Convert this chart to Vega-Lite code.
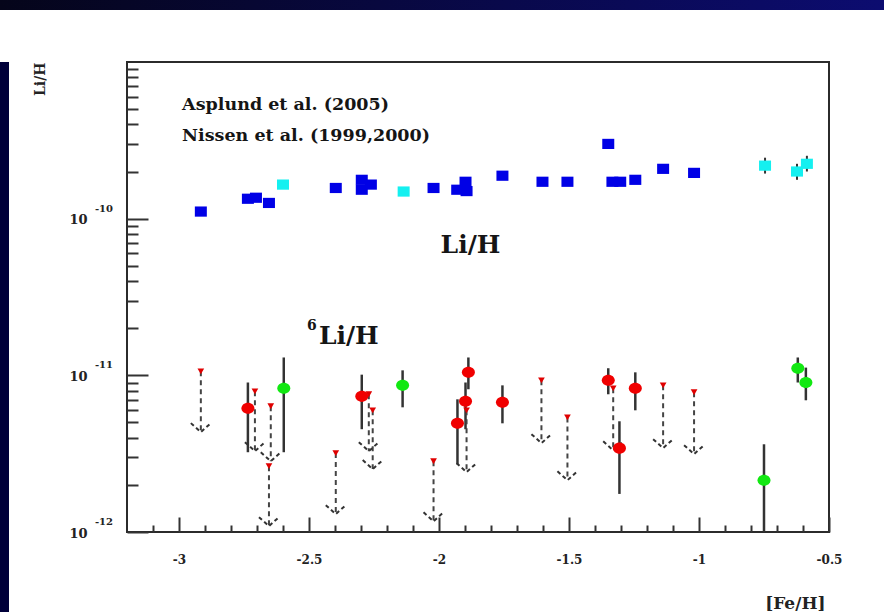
{
  "$schema": "https://vega.github.io/schema/vega-lite/v6.json",
  "padding": 0,
  "background": "white",
  "bounds": "flush",
  "spacing": 52,
  "config": {"view": {"stroke": null}, "font": "DejaVu Serif"},
  "datasets": {
    "li7": [
      {"feh": -2.916, "val": 1.11e-10, "src": "Asplund"},
      {"feh": -2.735, "val": 1.34e-10, "src": "Asplund"},
      {"feh": -2.704, "val": 1.36e-10, "src": "Asplund"},
      {"feh": -2.654, "val": 1.26e-10, "src": "Asplund"},
      {"feh": -2.397, "val": 1.57e-10, "src": "Asplund"},
      {"feh": -2.297, "val": 1.77e-10, "src": "Asplund"},
      {"feh": -2.262, "val": 1.65e-10, "src": "Asplund"},
      {"feh": -2.297, "val": 1.53e-10, "src": "Asplund"},
      {"feh": -2.021, "val": 1.57e-10, "src": "Asplund"},
      {"feh": -1.930, "val": 1.53e-10, "src": "Asplund"},
      {"feh": -1.898, "val": 1.72e-10, "src": "Asplund"},
      {"feh": -1.894, "val": 1.50e-10, "src": "Asplund"},
      {"feh": -1.756, "val": 1.88e-10, "src": "Asplund"},
      {"feh": -1.602, "val": 1.72e-10, "src": "Asplund"},
      {"feh": -1.506, "val": 1.72e-10, "src": "Asplund"},
      {"feh": -1.349, "val": 3.0e-10, "src": "Asplund"},
      {"feh": -1.333, "val": 1.72e-10, "src": "Asplund"},
      {"feh": -1.303, "val": 1.72e-10, "src": "Asplund"},
      {"feh": -1.245, "val": 1.77e-10, "src": "Asplund"},
      {"feh": -1.138, "val": 2.08e-10, "src": "Asplund"},
      {"feh": -1.019, "val": 1.96e-10, "src": "Asplund"},
      {"feh": -2.600, "val": 1.65e-10, "src": "Nissen"},
      {"feh": -2.136, "val": 1.49e-10, "src": "Nissen"},
      {"feh": -0.746, "val": 2.18e-10, "src": "Nissen", "lo": 1.94e-10, "hi": 2.45e-10},
      {"feh": -0.623, "val": 2.0e-10, "src": "Nissen", "lo": 1.77e-10, "hi": 2.24e-10},
      {"feh": -0.585, "val": 2.24e-10, "src": "Nissen", "lo": 2.0e-10, "hi": 2.52e-10}
    ],
    "li6": [
      {"feh": -2.735, "val": 6.17e-12, "lo": 3.23e-12, "hi": 9.0e-12, "src": "Asplund"},
      {"feh": -2.297, "val": 7.34e-12, "lo": 4.53e-12, "hi": 1.01e-11, "src": "Asplund"},
      {"feh": -1.929, "val": 4.94e-12, "lo": 2.71e-12, "hi": 7.03e-12, "src": "Asplund"},
      {"feh": -1.887, "val": 1.045e-11, "lo": 8.15e-12, "hi": 1.30e-11, "src": "Asplund"},
      {"feh": -1.898, "val": 6.82e-12, "lo": 4.53e-12, "hi": 9.0e-12, "src": "Asplund"},
      {"feh": -1.756, "val": 6.73e-12, "lo": 4.94e-12, "hi": 8.63e-12, "src": "Asplund"},
      {"feh": -1.349, "val": 9.29e-12, "lo": 7.57e-12, "hi": 1.11e-11, "src": "Asplund"},
      {"feh": -1.306, "val": 3.43e-12, "lo": 1.75e-12, "hi": 5.09e-12, "src": "Asplund"},
      {"feh": -1.245, "val": 8.26e-12, "lo": 5.98e-12, "hi": 1.045e-11, "src": "Asplund"},
      {"feh": -2.597, "val": 8.26e-12, "lo": 3.23e-12, "hi": 1.30e-11, "src": "Nissen"},
      {"feh": -2.140, "val": 8.63e-12, "lo": 6.25e-12, "hi": 1.076e-11, "src": "Nissen"},
      {"feh": -0.750, "val": 2.14e-12, "lo": 1.0e-12, "hi": 3.63e-12, "src": "Nissen"},
      {"feh": -0.620, "val": 1.11e-11, "lo": 9.0e-12, "hi": 1.30e-11, "src": "Nissen"},
      {"feh": -0.589, "val": 9.0e-12, "lo": 6.93e-12, "hi": 1.12e-11, "src": "Nissen"}
    ],
    "limits": [
      {"feh": -2.916, "val": 1.06e-11, "end": 4.34e-12},
      {"feh": -2.708, "val": 7.9e-12, "end": 3.28e-12},
      {"feh": -2.647, "val": 6.35e-12, "end": 2.83e-12},
      {"feh": -2.654, "val": 2.63e-12, "end": 1.09e-12},
      {"feh": -2.397, "val": 3.19e-12, "end": 1.30e-12},
      {"feh": -2.270, "val": 7.57e-12, "end": 3.28e-12},
      {"feh": -2.255, "val": 5.98e-12, "end": 2.52e-12},
      {"feh": -2.021, "val": 2.83e-12, "end": 1.17e-12},
      {"feh": -1.894, "val": 5.98e-12, "end": 2.41e-12},
      {"feh": -1.606, "val": 9.29e-12, "end": 3.69e-12},
      {"feh": -1.506, "val": 5.39e-12, "end": 2.14e-12},
      {"feh": -1.330, "val": 8.26e-12, "end": 3.32e-12},
      {"feh": -1.138, "val": 8.63e-12, "end": 3.43e-12},
      {"feh": -1.019, "val": 7.8e-12, "end": 3.14e-12}
    ],
    "notes": [
      {"feh": -2.988, "val": 5.33e-10, "text": "Asplund et al. (2005)", "kind": "ref"},
      {"feh": -2.988, "val": 3.38e-10, "text": "Nissen et al. (1999,2000)", "kind": "ref"},
      {"feh": -1.879, "val": 6.82e-11, "text": "Li/H", "kind": "li7"},
      {"feh": -2.462, "val": 1.77e-11, "text": "Li/H", "kind": "li6"},
      {"feh": -2.489, "val": 2.05e-11, "text": "6", "kind": "sup"}
    ],
    "exps": [
      {"val": 1e-10, "text": "-10"},
      {"val": 1e-11, "text": "-11"},
      {"val": 1e-12, "text": "-12"}
    ]
  },
  "vconcat": [
    {
      "width": 884, "height": 10,
      "data": {"values": [{"part": "top"}]},
      "mark": {"type": "rect", "color": {"gradient": "linear", "stops": [{"offset": 0, "color": "#05051a"}, {"offset": 1, "color": "#0c0c70"}]}},
      "encoding": {}
    },
    {
      "bounds": "flush",
      "spacing": 118,
      "hconcat": [
        {
          "width": 9, "height": 550,
          "data": {"values": [{"part": "left"}]},
          "mark": {"type": "rect", "color": "#00003a"},
          "encoding": {}
        },
        {
          "width": 702, "height": 470,
          "view": {"stroke": "#2b2b2b", "strokeWidth": 2},
          "resolve": {"axis": {"x": "independent"}},
          "layer": [
            {
              "data": {"name": "li7"},
              "transform": [{"filter": "isValid(datum.lo)"}],
              "mark": {"type": "rule", "color": "#333", "strokeWidth": 2},
              "encoding": {
                "x": {"field": "feh", "type": "quantitative",
                  "scale": {"domain": [-3.2, -0.5], "nice": false, "zero": false},
                  "axis": {
                    "orient": "bottom",
                    "values": [-3, -2.5, -2, -1.5, -1, -0.5],
                    "tickSize": -15,
                    "labelExpr": "'' + datum.value",
                    "labelPadding": 37, "labelOverlap": false, "labelFlush": false,
                    "labelFont": "DejaVu Serif", "labelFontWeight": "bold", "labelFontSize": 12, "labelColor": "#222",
                    "tickColor": "#333", "tickWidth": 2, "domain": false, "grid": false,
                    "title": "[Fe/H]", "titleX": 698, "titleY": 71, "titleAlign": "right", "titleBaseline": "middle",
                    "titleFont": "DejaVu Serif", "titleFontWeight": "bold", "titleFontSize": 17, "titleColor": "#222"
                  }
                },
                "y": {"field": "lo", "type": "quantitative",
                  "scale": {"type": "log", "domain": [1e-12, 1e-9], "nice": false},
                  "axis": {
                    "values": [1e-12, 2e-12, 3e-12, 4e-12, 5e-12, 6e-12, 7e-12, 8e-12, 9e-12, 1e-11, 2e-11, 3e-11, 4e-11, 5e-11, 6e-11, 7e-11, 8e-11, 9e-11, 1e-10, 2e-10, 3e-10, 4e-10, 5e-10, 6e-10, 7e-10, 8e-10, 9e-10],
                    "tickSize": {"condition": {"test": "abs(log(datum.value)/LN10 - round(log(datum.value)/LN10)) < 0.01", "value": -21}, "value": -11},
                    "labelExpr": "abs(log(datum.value)/LN10 - round(log(datum.value)/LN10)) < 0.01 ? '10' : ''",
                    "labelPadding": 61, "labelOverlap": false, "labelFlush": false, "labelBaseline": "middle", "labelOffset": 1,
                    "labelFont": "DejaVu Serif", "labelFontWeight": "bold", "labelFontSize": 13, "labelColor": "#222",
                    "tickColor": "#333", "tickWidth": 2, "domain": false, "grid": false,
                    "title": "Li/H", "titleX": -87, "titleY": 0, "titleAngle": -90, "titleAlign": "right", "titleBaseline": "middle",
                    "titleFont": "DejaVu Serif", "titleFontWeight": "bold", "titleFontSize": 14, "titleColor": "#222"
                  }
                },
                "y2": {"field": "hi"}
              }
            },
            {
              "data": {"name": "li7"},
              "transform": [{"filter": "datum.src == 'Asplund'"}],
              "mark": {"type": "point", "shape": "M-1,-0.85L1,-0.85L1,0.85L-1,0.85Z", "size": 144, "filled": true, "opacity": 1, "color": "#0000e6"},
              "encoding": {
                "x": {"field": "feh", "type": "quantitative",
                  "axis": {
                    "orient": "bottom",
                    "values": [-3.1, -2.9, -2.8, -2.7, -2.6, -2.4, -2.3, -2.2, -2.1, -1.9, -1.8, -1.7, -1.6, -1.4, -1.3, -1.2, -1.1, -0.9, -0.8, -0.7, -0.6],
                    "tickSize": -7, "labels": false, "title": null,
                    "tickColor": "#333", "tickWidth": 2, "domain": false, "grid": false
                  }
                },
                "y": {"field": "val", "type": "quantitative"}
              }
            },
            {
              "data": {"name": "li7"},
              "transform": [{"filter": "datum.src == 'Nissen'"}],
              "mark": {"type": "point", "shape": "M-1,-0.85L1,-0.85L1,0.85L-1,0.85Z", "size": 144, "filled": true, "opacity": 1, "color": "#14f0f0"},
              "encoding": {
                "x": {"field": "feh", "type": "quantitative", "axis": null},
                "y": {"field": "val", "type": "quantitative"}
              }
            },
            {
              "data": {"name": "li6"},
              "mark": {"type": "rule", "color": "#333", "strokeWidth": 2.5},
              "encoding": {
                "x": {"field": "feh", "type": "quantitative", "axis": null},
                "y": {"field": "lo", "type": "quantitative"},
                "y2": {"field": "hi"}
              }
            },
            {
              "data": {"name": "limits"},
              "mark": {"type": "rule", "color": "#444", "strokeWidth": 2, "strokeDash": [5, 4]},
              "encoding": {
                "x": {"field": "feh", "type": "quantitative", "axis": null},
                "y": {"field": "val", "type": "quantitative"},
                "y2": {"field": "end"}
              }
            },
            {
              "data": {"name": "limits"},
              "mark": {"type": "point", "shape": "M-1,-0.9L0,0L1,-0.9", "size": 400, "filled": false, "opacity": 1, "color": "#333", "strokeWidth": 2, "strokeDash": [4, 3]},
              "encoding": {
                "x": {"field": "feh", "type": "quantitative", "axis": null},
                "y": {"field": "end", "type": "quantitative"}
              }
            },
            {
              "data": {"name": "limits"},
              "mark": {"type": "point", "shape": "triangle-down", "size": 45, "filled": true, "opacity": 1, "color": "#e00000"},
              "encoding": {
                "x": {"field": "feh", "type": "quantitative", "axis": null},
                "y": {"field": "val", "type": "quantitative"}
              }
            },
            {
              "data": {"name": "li6"},
              "transform": [{"filter": "datum.src == 'Asplund'"}],
              "mark": {"type": "point", "shape": "M-1,0A1,0.85 0 1,1 1,0A1,0.85 0 1,1 -1,0Z", "size": 169, "filled": true, "opacity": 1, "color": "#f00000"},
              "encoding": {
                "x": {"field": "feh", "type": "quantitative", "axis": null},
                "y": {"field": "val", "type": "quantitative"}
              }
            },
            {
              "data": {"name": "li6"},
              "transform": [{"filter": "datum.src == 'Nissen'"}],
              "mark": {"type": "point", "shape": "M-1,0A1,0.85 0 1,1 1,0A1,0.85 0 1,1 -1,0Z", "size": 169, "filled": true, "opacity": 1, "color": "#12e812"},
              "encoding": {
                "x": {"field": "feh", "type": "quantitative", "axis": null},
                "y": {"field": "val", "type": "quantitative"}
              }
            },
            {
              "data": {"name": "notes"},
              "transform": [{"filter": "datum.kind == 'ref'"}],
              "mark": {"type": "text", "align": "left", "baseline": "middle", "font": "DejaVu Serif", "fontWeight": "bold", "fontSize": 17.5, "color": "#151515"},
              "encoding": {
                "x": {"field": "feh", "type": "quantitative", "axis": null},
                "y": {"field": "val", "type": "quantitative"},
                "text": {"field": "text"}
              }
            },
            {
              "data": {"name": "notes"},
              "transform": [{"filter": "datum.kind == 'li7'"}],
              "mark": {"type": "text", "align": "center", "baseline": "middle", "font": "DejaVu Serif", "fontWeight": "bold", "fontSize": 25, "color": "#151515"},
              "encoding": {
                "x": {"field": "feh", "type": "quantitative", "axis": null},
                "y": {"field": "val", "type": "quantitative"},
                "text": {"field": "text"}
              }
            },
            {
              "data": {"name": "notes"},
              "transform": [{"filter": "datum.kind == 'li6'"}],
              "mark": {"type": "text", "align": "left", "baseline": "middle", "font": "DejaVu Serif", "fontWeight": "bold", "fontSize": 25, "color": "#151515"},
              "encoding": {
                "x": {"field": "feh", "type": "quantitative", "axis": null},
                "y": {"field": "val", "type": "quantitative"},
                "text": {"field": "text"}
              }
            },
            {
              "data": {"name": "notes"},
              "transform": [{"filter": "datum.kind == 'sup'"}],
              "mark": {"type": "text", "align": "center", "baseline": "middle", "font": "DejaVu Serif", "fontWeight": "bold", "fontSize": 14, "color": "#151515"},
              "encoding": {
                "x": {"field": "feh", "type": "quantitative", "axis": null},
                "y": {"field": "val", "type": "quantitative"},
                "text": {"field": "text"}
              }
            },
            {
              "data": {"name": "exps"},
              "mark": {"type": "text", "align": "right", "baseline": "middle", "dx": -14, "dy": -10, "font": "DejaVu Serif", "fontWeight": "bold", "fontSize": 10, "color": "#222"},
              "encoding": {
                "x": {"datum": -3.2, "type": "quantitative", "axis": null},
                "y": {"field": "val", "type": "quantitative"},
                "text": {"field": "text"}
              }
            }
          ]
        }
      ]
    }
  ]
}
